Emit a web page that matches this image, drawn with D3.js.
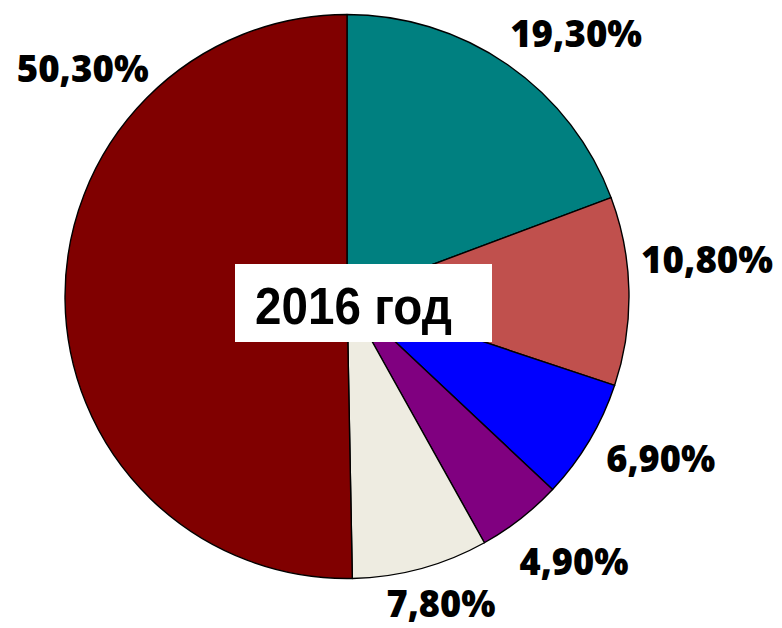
<!DOCTYPE html>
<html>
<head>
<meta charset="utf-8">
<script src="https://cdn.jsdelivr.net/npm/d3@7"></script>
<style>
  html, body { margin: 0; padding: 0; background: #fff; }
  svg { display: block; }
</style>
</head>
<body>
<svg id="chart" width="782" height="628"></svg>
<script>
// ---- data ----
const categories = ["A", "B", "C", "D", "E", "F"];
const values = [19.3, 10.8, 6.9, 4.9, 7.8, 50.3];
const labels = ["19,30%", "10,80%", "6,90%", "4,90%", "7,80%", "50,30%"];
const colors = ["#008080", "#C0504D", "#0000FF", "#800080", "#EEECE1", "#800000"];
const title = "2016 год";

// ---- layout ----
const W = 782, H = 628;
const cx = 347, cy = 296.5, R = 282;
// label placement: polar radius and angular nudge (deg) relative to slice mid-angle
const labelRadius = [349, 362, 353, 349, 321, 349];
const labelShift = [6.3, -4.8, -3.5, -2.6, -1.9, 41.3];

const svg = d3.select("#chart");
const g = svg.append("g").attr("transform", `translate(${cx},${cy})`);

const pie = d3.pie().sort(null).value(d => d)(values);
const arc = d3.arc().innerRadius(0).outerRadius(R);

g.selectAll("path.slice")
  .data(pie)
  .join("path")
  .attr("class", "slice")
  .attr("d", arc)
  .attr("fill", (d, i) => colors[i])
  .attr("stroke", "#000")
  .attr("stroke-width", 1.4)
  .attr("stroke-linejoin", "round");

// labels
g.selectAll("text.lbl")
  .data(pie)
  .join("text")
  .attr("class", "lbl")
  .each(function(d, i) {
    const mid = (d.startAngle + d.endAngle) / 2 + labelShift[i] * Math.PI / 180;
    const r = labelRadius[i];
    const x = r * Math.sin(mid), y = -r * Math.cos(mid);
    const len = labels[i].length === 6 ? 132 : 109;
    d3.select(this)
      .attr("x", x)
      .attr("y", y + 13.5)
      .attr("text-anchor", "middle")
      .attr("font-family", "'Open Sans', Lato, sans-serif")
      .attr("font-weight", 800)
      .attr("font-size", 37)
      .attr("fill", "#000")
      .attr("textLength", len)
      .attr("lengthAdjust", "spacingAndGlyphs")
      .text(labels[i]);
  });

// title box
const box = svg.append("g");
box.append("rect")
  .attr("x", 235).attr("y", 264)
  .attr("width", 257).attr("height", 78)
  .attr("fill", "#fff");
box.append("text")
  .attr("x", 255).attr("y", 324)
  .attr("font-family", "'Liberation Sans', Arial, sans-serif")
  .attr("font-weight", "bold")
  .attr("font-size", 52)
  .attr("fill", "#000")
  .attr("textLength", 197)
  .attr("lengthAdjust", "spacingAndGlyphs")
  .text(title);
</script>
</body>
</html>
